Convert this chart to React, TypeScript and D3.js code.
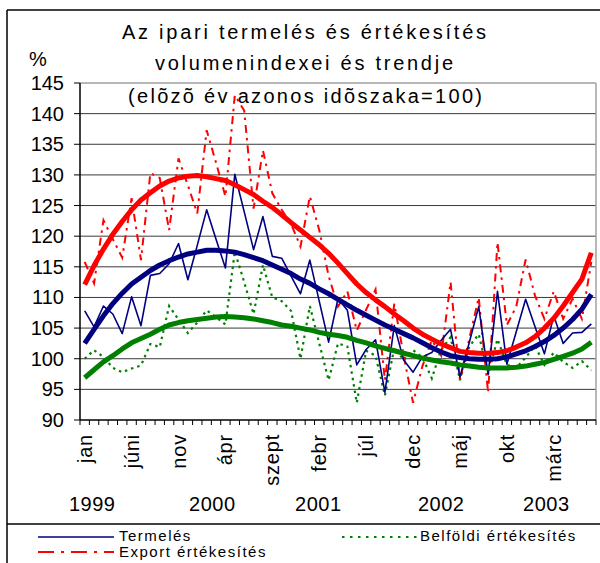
import * as d3 from "d3";

// havi adatok: 1999 jan - 2003 júl
const monthNames = ["jan", "febr", "márc", "ápr", "máj", "júni", "júl", "aug", "szept", "okt", "nov", "dec"];
const years = ["1999", "2000", "2001", "2002", "2003"];
const categories = years.flatMap((y) => monthNames.map((m) => `${y} ${m}`)).slice(0, 55);

const termeles = [
  107.8, 105.2, 108.6, 107.3, 104.1, 110.1, 105.4, 113.6, 113.9, 115.5,
  118.8, 112.9, 118.5, 124.3, 119.5, 114.8, 130.1, 124.0, 117.8, 123.2,
  116.7, 116.4, 113.5, 110.6, 116.1, 109.4, 102.7, 109.8, 107.9, 99.0,
  101.5, 103.1, 94.5, 105.4, 99.8, 97.8, 100.3, 101.0, 103.0, 104.8,
  97.0, 102.7, 108.5, 97.4, 111.0, 99.1, 104.4, 109.7, 105.2, 100.8,
  107.0, 102.5, 104.2, 104.3, 105.7,
];
const belfoldi = [
  100.0, 101.4, 100.3, 98.5, 97.8, 98.4, 98.9, 102.4, 101.9, 108.6,
  106.4, 104.2, 105.9, 107.9, 106.8, 105.6, 117.5, 112.5, 107.3, 115.3,
  110.0, 109.4, 107.8, 100.0, 108.6, 102.5, 96.5, 102.5, 102.0, 92.8,
  101.3, 100.5, 94.0, 101.8, 99.8, 101.4, 100.2, 96.8, 101.5, 103.5,
  96.5, 102.0, 104.0, 97.5, 103.2, 99.0, 98.5, 100.2, 102.1, 99.0,
  101.0, 99.5, 98.5, 99.6, 98.1,
];
const exportErt = [
  115.8, 112.3, 122.6, 119.5, 116.5, 126.2, 116.1, 130.3, 129.5, 121.0,
  132.7, 128.3, 123.7, 137.3, 132.0, 126.5, 143.0, 140.5, 124.5, 134.0,
  127.0, 124.3, 122.0, 118.3, 126.5, 121.0, 113.5, 108.5, 111.0, 104.6,
  108.0, 111.3, 96.5, 109.0, 100.5, 92.8, 98.8, 103.0, 100.5, 112.5,
  96.5, 103.3, 110.0, 94.5, 119.0, 105.5, 108.5, 116.2, 110.3, 106.5,
  111.0, 106.5, 109.8, 106.5, 115.8,
];

// trendek
const termelesTrend = [
  102.5, 104.8, 107.0, 109.0, 110.7, 112.2, 113.3, 114.4, 115.3, 116.0,
  116.6, 117.1, 117.4, 117.7, 117.7, 117.6, 117.4, 117.0, 116.5, 116.0,
  115.3, 114.6, 113.9, 113.0, 112.3, 111.4, 110.6, 109.7, 108.8, 107.9,
  107.1, 106.3, 105.5, 104.8, 104.1, 103.4, 102.6, 101.8, 101.1, 100.5,
  100.2, 100.0, 99.9, 99.9, 100.0, 100.3, 100.8, 101.3, 102.0, 102.8,
  103.8, 105.0, 106.4, 108.1, 110.5,
];
const belfoldiTrend = [
  96.9, 98.2, 99.5, 100.5, 101.6, 102.6, 103.3, 104.0, 104.8, 105.5,
  105.9, 106.2, 106.4, 106.6, 106.8, 106.9, 106.8, 106.7, 106.5, 106.2,
  105.9, 105.5, 105.3, 105.0, 104.7, 104.3, 104.0, 103.8, 103.5, 103.0,
  102.6, 102.1, 101.7, 101.3, 100.9, 100.5, 100.1, 99.8, 99.5, 99.3,
  99.0, 98.8, 98.6, 98.5, 98.5, 98.5, 98.6, 98.8, 99.1, 99.4,
  99.9, 100.4, 100.9, 101.6, 102.7,
];
const exportTrend = [
  112.1, 115.2, 117.9, 120.3, 122.4, 124.3, 125.9, 127.1, 128.2, 129.0,
  129.5, 129.8, 129.9, 129.7, 129.4, 129.1, 128.4, 127.6, 126.8, 125.7,
  124.7, 123.5, 122.2, 121.0, 119.8, 118.6, 117.2, 115.6, 113.9, 112.2,
  110.8, 109.6, 108.5, 107.3, 106.2, 105.0, 104.0, 103.2, 102.4, 101.8,
  101.2, 101.0, 100.9, 100.9, 101.0, 101.3, 101.9, 102.6, 103.6, 105.0,
  106.6, 108.6, 110.8, 113.0, 117.3,
];

const yearLabels = ["1999", "2000", "2001", "2002", "2003"];
const yearLabelAt = [0.8, 13.6, 24.9, 38.0, 49.2]; // hónap-index
const labelEvery = 5;

const NAVY = "#000080";
const GREEN = "#008000";
const RED = "#ff0000";
const FONT = "'Liberation Sans', Arial, sans-serif";

const PLOT = { left: 80, right: 596, top: 83, bottom: 420 };

export default function App() {
  const x = d3.scaleBand<string>().domain(categories).range([PLOT.left, PLOT.right]);
  const bw = x.bandwidth();
  const xc = (i: number) => (x(categories[i]) as number) + bw / 2;
  const xIdx = d3.scaleLinear().domain([0, categories.length - 1]).range([xc(0), xc(categories.length - 1)]);
  const y = d3.scaleLinear().domain([90, 145]).range([PLOT.bottom, PLOT.top]);

  const line = d3
    .line<number>()
    .x((_, i) => xc(i))
    .y((d) => y(d));

  const yTicks = y.ticks(11);

  return (
    <div style={{ position: "absolute", left: 0, top: 0, width: 600, height: 563, background: "#fff" }}>
      <svg width={600} height={563} style={{ display: "block", fontFamily: FONT }}>
        <rect width={600} height={563} fill="#fff" />
        {/* keret */}
        <line x1={7} x2={600} y1={10} y2={10} stroke="#000" strokeWidth={1.5} />
        <line x1={7} x2={7} y1={10} y2={563} stroke="#000" strokeWidth={1.5} />
        <line x1={7} x2={600} y1={524} y2={524} stroke="#000" strokeWidth={1.5} />

        {/* cím */}
        <text x={304} y={39} textAnchor="middle" fontSize={20} textLength={364} lengthAdjust="spacing">
          Az ipari termelés és értékesítés
        </text>
        <text x={304} y={70} textAnchor="middle" fontSize={20} textLength={298} lengthAdjust="spacing">
          volumenindexei és trendje
        </text>
        <text x={305} y={103} textAnchor="middle" fontSize={20} textLength={354} lengthAdjust="spacing">
          (elõzõ év azonos idõszaka=100)
        </text>
        <text x={38} y={66} textAnchor="middle" fontSize={20}>%</text>

        {/* rácsvonalak */}
        {yTicks.map((t) => (
          <g key={t}>
            {t > 90 && t < 145 && (
              <line x1={PLOT.left} x2={PLOT.right} y1={y(t)} y2={y(t)} stroke="#3a3a3a" strokeWidth={1} />
            )}
            <line x1={PLOT.left - 6} x2={PLOT.left} y1={y(t)} y2={y(t)} stroke="#000" strokeWidth={1} />
            <text x={64} y={y(t)} dy="0.35em" textAnchor="end" fontSize={20}>
              {t}
            </text>
          </g>
        ))}
        <line x1={PLOT.left} x2={PLOT.right} y1={PLOT.top} y2={PLOT.top} stroke="#a0a0a0" strokeWidth={1.5} />
        <line x1={PLOT.right} x2={PLOT.right} y1={PLOT.top} y2={PLOT.bottom} stroke="#a0a0a0" strokeWidth={1.5} />

        {/* adatsorok */}
        <path d={line(belfoldi) ?? ""} fill="none" stroke={GREEN} strokeWidth={2.2} strokeDasharray="2.5 4" />
        <path d={line(exportErt) ?? ""} fill="none" stroke={RED} strokeWidth={2} strokeDasharray="8 5 2.5 5" />
        <path d={line(termeles) ?? ""} fill="none" stroke={NAVY} strokeWidth={1.6} strokeLinejoin="round" />
        <path d={line(belfoldiTrend) ?? ""} fill="none" stroke={GREEN} strokeWidth={5} strokeLinejoin="round" />
        <path d={line(termelesTrend) ?? ""} fill="none" stroke={NAVY} strokeWidth={5} strokeLinejoin="round" />
        <path d={line(exportTrend) ?? ""} fill="none" stroke={RED} strokeWidth={5} strokeLinejoin="round" />

        {/* tengelyek */}
        <line x1={PLOT.left} x2={PLOT.left} y1={PLOT.top} y2={PLOT.bottom} stroke="#000" strokeWidth={1.5} />
        <line x1={PLOT.left} x2={PLOT.right} y1={PLOT.bottom} y2={PLOT.bottom} stroke="#000" strokeWidth={1.5} />
        {categories.map((c) => (
          <line key={c} x1={x(c)} x2={x(c)} y1={PLOT.bottom} y2={PLOT.bottom + 5} stroke="#000" strokeWidth={1} />
        ))}
        <line x1={PLOT.right} x2={PLOT.right} y1={PLOT.bottom} y2={PLOT.bottom + 5} stroke="#000" strokeWidth={1} />
        {categories.map((c, i) =>
          i % labelEvery === 0 ? (
            <text
              key={c}
              transform={`translate(${xc(i)},${PLOT.bottom + 14}) rotate(-90)`}
              dy="0.35em"
              textAnchor="end"
              fontSize={20}
              letterSpacing={0.8}
            >
              {monthNames[i % 12]}
            </text>
          ) : null
        )}
        {yearLabels.map((yl, i) => (
          <text key={yl} x={xIdx(yearLabelAt[i])} y={511} textAnchor="middle" fontSize={20} letterSpacing={0.5}>
            {yl}
          </text>
        ))}

        {/* jelmagyarázat */}
        <line x1={38} x2={114} y1={537} y2={537} stroke={NAVY} strokeWidth={1.6} />
        <text x={119} y={541} fontSize={15} letterSpacing={1.5}>Termelés</text>
        <line x1={342} x2={418} y1={537} y2={537} stroke={GREEN} strokeWidth={2.2} strokeDasharray="2.5 5.5" />
        <text x={420} y={541} fontSize={15} letterSpacing={1.5}>Belföldi értékesítés</text>
        <line x1={38} x2={114} y1={552} y2={552} stroke={RED} strokeWidth={2.2} strokeDasharray="16 7 3 7" />
        <text x={119} y={557} fontSize={15} letterSpacing={1.5}>Export értékesítés</text>
      </svg>
    </div>
  );
}
